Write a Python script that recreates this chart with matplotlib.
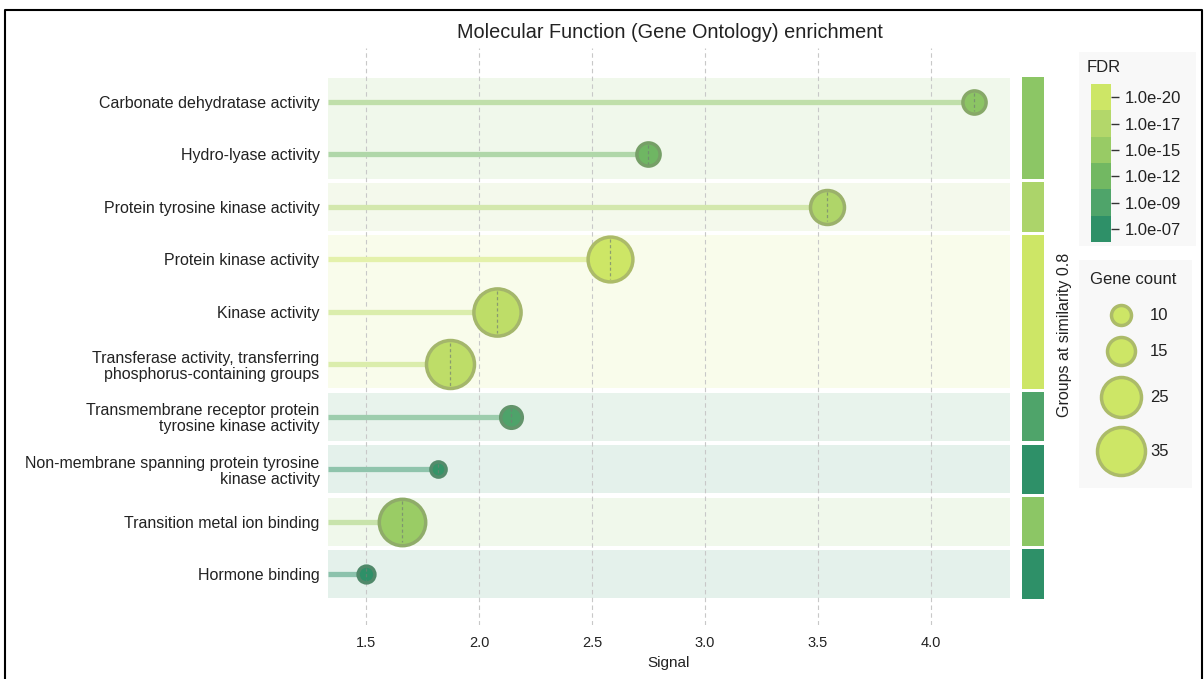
import numpy as np
import matplotlib
matplotlib.use("Agg")
import matplotlib.pyplot as plt
from matplotlib.colors import LinearSegmentedColormap, to_rgb
from matplotlib.patches import Rectangle
from matplotlib.lines import Line2D

plt.rcParams['font.family'] = ['Liberation Sans', 'DejaVu Sans']

# ---------------- data ----------------
terms = [
    "Carbonate dehydratase activity",
    "Hydro-lyase activity",
    "Protein tyrosine kinase activity",
    "Protein kinase activity",
    "Kinase activity",
    "Transferase activity, transferring\nphosphorus-containing groups",
    "Transmembrane receptor protein\ntyrosine kinase activity",
    "Non-membrane spanning protein tyrosine\nkinase activity",
    "Transition metal ion binding",
    "Hormone binding",
]
signal = [4.19, 2.75, 3.54, 2.58, 2.08, 1.87, 2.14, 1.82, 1.66, 1.50]
gene_count = [12, 12, 20, 31, 34, 35, 11, 7, 33, 8]
log10_fdr = [-14.0, -12.0, -17.0, -20.0, -18.5, -18.5, -9.5, -7.5, -15.0, -7.0]
group = [0, 0, 1, 2, 2, 2, 3, 4, 5, 6]
group_colors = ["#8cc665", "#acd46a", "#cde666", "#4fa46a", "#2e9068", "#8cc665", "#2e9068"]

fdr_tick_labels = ["1.0e-20", "1.0e-17", "1.0e-15", "1.0e-12", "1.0e-09", "1.0e-07"]
fdr_block_colors = ["#cde666", "#b3d76a", "#98cb65", "#72b862", "#4fa46a", "#2e9068"]
legend_counts = [10, 15, 25, 35]
xticks = [1.5, 2.0, 2.5, 3.0, 3.5, 4.0]

# ---------------- helpers ----------------
cmap = LinearSegmentedColormap.from_list("fdr", fdr_block_colors[::-1])
def fdr_color(lf):
    t = (lf - (-7.0)) / (-20.0 - (-7.0))
    return cmap(np.clip(t, 0, 1))

def diam_px(c):
    return np.interp(c, [0, 10, 15, 25, 35, 50], [4, 20, 28, 40, 48, 60])

def mix(c1, c2, t):
    a = np.array(to_rgb(c1)); b = np.array(to_rgb(c2))
    return tuple(a * (1 - t) + b * t)

def edge_of(c):
    return mix(c, (0.50, 0.50, 0.43), 0.42)

TXT = "#222222"
DPI = 100
W, H = 1204, 679
fig = plt.figure(figsize=(W / DPI, H / DPI), dpi=DPI)

# legend panels (behind everything)
fig.patches.append(Rectangle((1079 / W, 1 - 246 / H), 117 / W, 194 / H,
                             transform=fig.transFigure, facecolor="#f8f8f8",
                             edgecolor="none", zorder=-5))
fig.patches.append(Rectangle((1079 / W, 1 - 488 / H), 113 / W, 228 / H,
                             transform=fig.transFigure, facecolor="#f8f8f8",
                             edgecolor="none", zorder=-5))

# main axes in pixel coords
ax_l, ax_r, ax_t, ax_b = 328, 1010, 48, 625
ax = fig.add_axes([ax_l / W, 1 - ax_b / H, (ax_r - ax_l) / W, (ax_b - ax_t) / H])
n = len(terms)
ylim_top, ylim_bot = -1.03, 9.97
row_px = (ax_b - ax_t) / (ylim_bot - ylim_top)
xmin, xmax = 1.332, 4.35
ax.set_xlim(xmin, xmax)
ax.set_ylim(ylim_bot, ylim_top)
ax.patch.set_visible(False)

# background bands per group
gstart = {}
for i, g in enumerate(group):
    gstart.setdefault(g, [i, i])
    gstart[g][1] = i
for g, (a, b) in gstart.items():
    col = mix("white", group_colors[g], 0.13)
    ax.add_patch(Rectangle((xmin, a - 0.46), xmax - xmin, (b - a) + 0.92,
                           facecolor=col, edgecolor="none", zorder=0))

for x in xticks:
    ax.axvline(x, color="#c8c8c8", lw=0.8, ls=(0, (4, 3)), zorder=1)

for i in range(n):
    fc = fdr_color(log10_fdr[i])
    stem = mix(fc, "white", 0.45)
    ax.plot([xmin, signal[i]], [i, i], color=stem, lw=3.8, solid_capstyle="butt", zorder=2)
    d = diam_px(gene_count[i])
    s = (d * 0.72) ** 2
    ax.scatter([signal[i]], [i], s=s, color=fc, edgecolors=[edge_of(fc)],
               linewidths=2.5, zorder=3)
    r = (d / 2 - 2.5) / row_px
    ax.plot([signal[i], signal[i]], [i - r, i + r], color=(0.45, 0.5, 0.45), lw=0.9,
            ls=(0, (2.5, 2)), alpha=0.7, zorder=4)

ax.set_yticks(range(n))
ax.set_yticklabels(terms, fontsize=11.5, color=TXT, linespacing=1.1)
ax.set_xticks(xticks)
ax.set_xticklabels([f"{x:.1f}" for x in xticks], fontsize=10.5, color=TXT)
ax.tick_params(axis="both", length=0)
ax.tick_params(axis="y", pad=6)
ax.tick_params(axis="x", pad=8)
ax.set_xlabel("Signal", fontsize=11, color=TXT, labelpad=4)
for sp in ax.spines.values():
    sp.set_visible(False)

# group bar
gax = fig.add_axes([1022 / W, 1 - ax_b / H, 22 / W, (ax_b - ax_t) / H])
gax.set_ylim(ylim_bot, ylim_top)
gax.set_xlim(0, 1)
for g, (a, b) in gstart.items():
    gax.add_patch(Rectangle((0, a - 0.47), 1, (b - a) + 0.94,
                            facecolor=group_colors[g], edgecolor="none"))
gax.axis("off")
fig.text(1064 / W, 1 - 335 / H, "Groups at similarity 0.8", rotation=90,
         ha="center", va="center", fontsize=11.5, color=TXT)

# title
fig.text(670 / W, 1 - 32 / H, "Molecular Function (Gene Ontology) enrichment",
         ha="center", va="center", fontsize=14.3, color=TXT)

# FDR colorbar legend
fig.text(1087 / W, 1 - 67 / H, "FDR", ha="left", va="center", fontsize=12, color=TXT)
cax = fig.add_axes([1091 / W, 1 - 242 / H, 20 / W, 158 / H])
cax.patch.set_visible(False)
cax.set_xlim(0, 1)
cax.set_ylim(len(fdr_block_colors), 0)
for k, c in enumerate(fdr_block_colors):
    cax.add_patch(Rectangle((0, k), 1, 1, facecolor=c, edgecolor="none"))
cax.set_xticks([])
cax.yaxis.tick_right()
cax.set_yticks(np.arange(len(fdr_block_colors)) + 0.5)
cax.set_yticklabels(fdr_tick_labels, fontsize=12, color=TXT)
cax.tick_params(axis="y", length=6, width=1.0, color="#333333", pad=4, direction="out")
for sp in cax.spines.values():
    sp.set_visible(False)

# Gene count legend
fig.text(1090 / W, 1 - 280 / H, "Gene count", ha="left", va="center", fontsize=12, color=TXT)
lax = fig.add_axes([1079 / W, 1 - 488 / H, 113 / W, 228 / H])
lax.patch.set_visible(False)
lax.set_xlim(0, 113)
lax.set_ylim(228, 0)
lax.axis("off")
leg_y = [315, 351, 397, 451]
face = "#cde666"
for c, yy in zip(legend_counts, leg_y):
    d = diam_px(c)
    lax.scatter([1121 - 1079], [yy - 260], s=(d * 0.72) ** 2, color=face,
                edgecolors=[edge_of(face)], linewidths=2.5)
    lax.text(1150 - 1079, yy - 260, str(c), ha="left", va="center", fontsize=12, color=TXT)

# figure border
bx = Line2D([5 / W, 5 / W, 1202 / W, 1202 / W], [0, 1 - 9.5 / H, 1 - 9.5 / H, 0],
            transform=fig.transFigure, color="black", lw=1.5)
fig.lines.append(bx)

fig.savefig("out.png", dpi=DPI, facecolor="white")
